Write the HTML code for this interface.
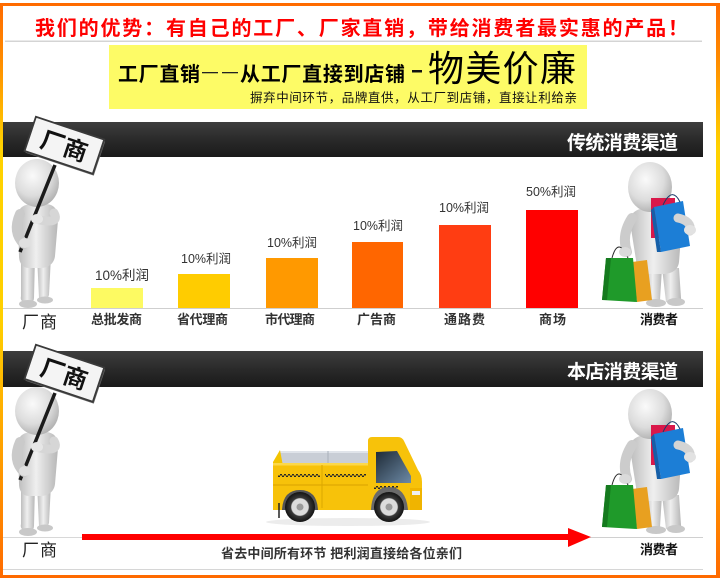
<!DOCTYPE html>
<html>
<head>
<meta charset="utf-8">
<style>
  html,body{margin:0;padding:0;background:#fff;}
  body{width:720px;height:580px;overflow:hidden;}
  svg{display:block;}
  text{font-family:"Liberation Sans","Noto Sans CJK SC",sans-serif;}
</style>
</head>
<body>
<svg width="720" height="580" viewBox="0 0 720 580" xmlns="http://www.w3.org/2000/svg">
  <defs>
    <linearGradient id="bord" x1="0" y1="0" x2="0" y2="1">
      <stop offset="0" stop-color="#ff6a00"/>
      <stop offset="0.1" stop-color="#ff8c00"/>
      <stop offset="0.25" stop-color="#ffd200"/>
      <stop offset="0.55" stop-color="#ffd000"/>
      <stop offset="0.78" stop-color="#ffa000"/>
      <stop offset="1" stop-color="#ff6a00"/>
    </linearGradient>
    <linearGradient id="dark" x1="0" y1="0" x2="0" y2="1">
      <stop offset="0" stop-color="#3e3e3e"/>
      <stop offset="0.5" stop-color="#2a2a2a"/>
      <stop offset="1" stop-color="#1a1a1a"/>
    </linearGradient>
    <radialGradient id="head" cx="0.4" cy="0.35" r="0.7">
      <stop offset="0" stop-color="#fafafa"/>
      <stop offset="0.6" stop-color="#dcdcdc"/>
      <stop offset="1" stop-color="#adadad"/>
    </radialGradient>
    <linearGradient id="body" x1="0" y1="0" x2="1" y2="0">
      <stop offset="0" stop-color="#bcbcbc"/>
      <stop offset="0.45" stop-color="#efefef"/>
      <stop offset="1" stop-color="#b6b6b6"/>
    </linearGradient>
    <linearGradient id="win" x1="0" y1="0" x2="1" y2="1">
      <stop offset="0" stop-color="#1e2a36"/>
      <stop offset="1" stop-color="#6d8aa6"/>
    </linearGradient>
    <pattern id="chk" width="4" height="3" patternUnits="userSpaceOnUse">
      <rect x="0" y="0" width="2" height="1.5" fill="#2a2a2a"/>
      <rect x="2" y="1.5" width="2" height="1.5" fill="#2a2a2a"/>
    </pattern>
    <radialGradient id="tire" cx="0.5" cy="0.5" r="0.5">
      <stop offset="0.55" stop-color="#dcdcdc"/>
      <stop offset="0.62" stop-color="#3a3a3a"/>
      <stop offset="1" stop-color="#141414"/>
    </radialGradient>
  </defs>

  <!-- border -->
  <rect x="0" y="0" width="720" height="580" fill="#fff"/>
  <rect x="0" y="3" width="720" height="575" fill="url(#bord)"/>
  <rect x="3" y="6" width="713" height="569" fill="#fff"/>

  <!-- header -->
  <text x="35" y="35" font-size="20" font-weight="bold" fill="#ff0000" textLength="653" lengthAdjust="spacing">我们的优势：有自己的工厂、厂家直销，带给消费者最实惠的产品！</text>
  <rect x="5" y="40.5" width="697" height="1.5" fill="#d4d4d4"/>

  <!-- yellow banner -->
  <rect x="109" y="45" width="478" height="64" fill="#fdfb66"/>
  <text x="118" y="81" font-size="20" font-weight="bold" fill="#000" textLength="82" lengthAdjust="spacing">工厂直销</text>
  <rect x="202" y="72" width="16" height="1.3" fill="#222"/>
  <rect x="222" y="72" width="16" height="1.3" fill="#222"/>
  <text x="240" y="81" font-size="20" font-weight="bold" fill="#000" textLength="165" lengthAdjust="spacing">从工厂直接到店铺</text>
  <rect x="412" y="70" width="10" height="2.5" fill="#111"/>
  <text x="428" y="81" font-size="36" fill="#000" textLength="148" lengthAdjust="spacing">物美价廉</text>
  <text x="250" y="102" font-size="12.5" fill="#111" textLength="327" lengthAdjust="spacing">摒弃中间环节，品牌直供，从工厂到店铺，直接让利给亲</text>

  <!-- section 1 dark bar -->
  <rect x="3" y="122" width="700" height="35" fill="url(#dark)"/>
  <text x="567" y="149" font-size="19" font-weight="bold" fill="#fff" textLength="111" lengthAdjust="spacing">传统消费渠道</text>

  <!-- baseline 1 -->
  <rect x="3" y="308" width="700" height="1" fill="#cfcfcf"/>

  <!-- bars -->
  <rect x="91" y="288" width="52" height="20" fill="#fdfa62"/>
  <rect x="178" y="274" width="52" height="34" fill="#ffcc00"/>
  <rect x="266" y="258" width="52" height="50" fill="#ff9900"/>
  <rect x="352" y="242" width="51" height="66" fill="#ff6600"/>
  <rect x="439" y="225" width="52" height="83" fill="#ff3d12"/>
  <rect x="526" y="210" width="52" height="98" fill="#ff0000"/>

  <g font-size="12.5" fill="#333">
    <text x="95" y="280" font-size="13.5">10%利润</text>
    <text x="181" y="263">10%利润</text>
    <text x="267" y="247">10%利润</text>
    <text x="353" y="230">10%利润</text>
    <text x="439" y="212">10%利润</text>
    <text x="526" y="196">50%利润</text>
  </g>

  <!-- category labels -->
  <text x="22" y="328" font-size="17" fill="#222" textLength="35" lengthAdjust="spacing">厂商</text>
  <g font-size="13" fill="#333" font-weight="bold">
    <text x="91" y="324" textLength="51" lengthAdjust="spacing">总批发商</text>
    <text x="177" y="324" textLength="51" lengthAdjust="spacing">省代理商</text>
    <text x="265" y="324" textLength="50" lengthAdjust="spacing">市代理商</text>
    <text x="357" y="324" textLength="39" lengthAdjust="spacing">广告商</text>
    <text x="444" y="324" textLength="41" lengthAdjust="spacing">通路费</text>
    <text x="539" y="324" textLength="27" lengthAdjust="spacing">商场</text>
    <text x="640" y="324" textLength="38" lengthAdjust="spacing" fill="#111">消费者</text>
  </g>

  <!-- maker figure section 1 -->
  <g>
    <path d="M21 256 L35 256 L34 298 Q34 303 29 303 L23 302 Q20 300 21 296 Z" fill="url(#body)"/>
    <path d="M37 256 L51 256 L49 295 Q48 299 44 299 L39 298 Z" fill="url(#body)"/>
    <ellipse cx="28" cy="304" rx="9" ry="4" fill="#c8c8c8"/>
    <ellipse cx="45" cy="300" rx="8" ry="3.5" fill="#c8c8c8"/>
    <path d="M18 216 C18 207 25 204 33 204 L45 204 C54 204 59 210 58 220 L55 256 C54 264 48 268 40 268 L29 268 C22 268 19 262 19 256 Z" fill="url(#body)"/>
    <ellipse cx="37" cy="183" rx="22" ry="24" fill="url(#head)"/>
    <line x1="55" y1="165" x2="20" y2="252" stroke="#1b1b1b" stroke-width="3.5"/>
    <path d="M20 214 Q12 232 24 244" stroke="#cacaca" stroke-width="10" fill="none" stroke-linecap="round"/>
    <path d="M54 213 Q60 224 40 220" stroke="#d6d6d6" stroke-width="9" fill="none" stroke-linecap="round"/>
    <ellipse cx="25" cy="243" rx="6" ry="5" fill="#e0e0e0"/>
    <ellipse cx="37" cy="219" rx="6" ry="5" fill="#e6e6e6"/>
    <g transform="translate(65,146.5) rotate(18.5)">
      <rect x="-35.5" y="-17.5" width="72" height="36" fill="#666"/>
      <rect x="-37" y="-19" width="72" height="36" fill="#f4f4f4" stroke="#3a3a3a" stroke-width="1.8"/>
      <text x="-1" y="8.5" font-size="24" font-weight="bold" text-anchor="middle" fill="#111">厂商</text>
    </g>
  </g>

  <!-- consumer figure section 1 -->
  <g>
    <path d="M645 268 L662 268 L660 300 Q660 304 655 304 L648 303 Z" fill="url(#body)"/>
    <path d="M662 268 L679 268 L681 298 Q682 303 676 303 L666 302 Z" fill="url(#body)"/>
    <ellipse cx="656" cy="303" rx="10" ry="4" fill="#c8c8c8"/>
    <ellipse cx="676" cy="302" rx="9" ry="4" fill="#c8c8c8"/>
    <path d="M630 222 C630 212 638 208 648 208 L666 208 C676 208 683 214 682 224 L679 262 C678 270 672 274 662 274 L648 274 C640 274 636 268 636 260 Z" fill="url(#body)"/>
    <ellipse cx="650" cy="187" rx="22" ry="25" fill="url(#head)"/>
    <rect x="651" y="198" width="24" height="40" fill="#d9184a"/>
    <path d="M632 218 Q621 235 627 252" stroke="#cccccc" stroke-width="10" fill="none" stroke-linecap="round"/>
    <path d="M632 262 L647 260 L652 300 L637 302 Z" fill="#e8a020"/>
    <path d="M606 258 L633 258 L637 302 L602 300 Z" fill="#1f9a2a"/>
    <path d="M606 258 L611 258 L607 300 L602 300 Z" fill="#157a1e"/>
    <path d="M612 258 Q618 236 628 258" stroke="#2a2a2a" stroke-width="1" fill="none"/>
    <ellipse cx="625" cy="252" rx="6" ry="5" fill="#dadada"/>
    <path d="M654 207 L683 201 L690 246 L661 252 Z" fill="#1c7ed6"/>
    <path d="M654 207 L661 252 L657 252 L651 210 Z" fill="#155fa8"/>
    <path d="M663 205 Q672 186 680 202" stroke="#1a3a6a" stroke-width="1" fill="none"/>
    <path d="M678 218 Q692 221 690 231" stroke="#d4d4d4" stroke-width="9" fill="none" stroke-linecap="round"/>
    <ellipse cx="690" cy="230" rx="6" ry="5" fill="#e2e2e2"/>
  </g>

  <!-- section 2 dark bar -->
  <rect x="3" y="351" width="700" height="36" fill="url(#dark)"/>
  <text x="567" y="378" font-size="19" font-weight="bold" fill="#fff" textLength="111" lengthAdjust="spacing">本店消费渠道</text>

  <!-- truck -->
  <g>
    <ellipse cx="348" cy="522" rx="82" ry="4" fill="#ececec"/>
    <rect x="280" y="451" width="88" height="15" fill="#c9ced6"/>
    <rect x="280" y="451" width="88" height="2" fill="#e0e4ea"/>
    <line x1="328" y1="451" x2="328" y2="466" stroke="#a9b0ba" stroke-width="1"/>
    <path d="M273 462 L280 450 L283 466 L273 466 Z" fill="#f3c400"/>
    <rect x="273" y="464" width="97" height="46" fill="#f7c20a"/>
    <rect x="273" y="463" width="97" height="2.5" fill="#fcd84a"/>
    <rect x="278" y="474" width="42" height="3" fill="url(#chk)"/>
    <rect x="325" y="474" width="41" height="3" fill="url(#chk)"/>
    <line x1="273" y1="485" x2="370" y2="485" stroke="#d9a200" stroke-width="1"/>
    <line x1="322" y1="465" x2="322" y2="508" stroke="#dba800" stroke-width="1"/>
    <path d="M368 441 Q368 437 372 437 L398 437 Q402 437 404 441 L418 470 Q422 475 422 482 L422 510 L368 510 Z" fill="#f7c20a"/>
    <path d="M376 452 L397 451 L411 476 L411 483 L376 483 Z" fill="url(#win)"/>
    <rect x="374" y="486" width="24" height="3" fill="url(#chk)"/>
    <rect x="410" y="488" width="12" height="22" fill="#f0b400"/>
    <rect x="412" y="491" width="8" height="4" fill="#eeeeee"/>
    <path d="M282 510 Q283 490 300 490 Q317 490 318 510 Z" fill="#555"/>
    <path d="M371 510 Q372 487 389 487 Q406 487 408 510 Z" fill="#6a6a6a"/>
    <line x1="279" y1="503" x2="279" y2="518" stroke="#222" stroke-width="1.5"/>
    <circle cx="300" cy="507" r="15" fill="url(#tire)"/>
    <circle cx="300" cy="507" r="3.5" fill="#9a9a9a"/>
    <circle cx="389" cy="507" r="15" fill="url(#tire)"/>
    <circle cx="389" cy="507" r="3.5" fill="#9a9a9a"/>
  </g>

  <!-- arrow line -->
  <rect x="3" y="537" width="80" height="1" fill="#d8d8d8"/>
  <rect x="590" y="537" width="113" height="1" fill="#d0d0d0"/>
  <rect x="82" y="534" width="488" height="6" fill="#ff0000"/>
  <polygon points="568,528 591,537 568,547" fill="#ff0000"/>

  <text x="22" y="556" font-size="17" fill="#222" textLength="35" lengthAdjust="spacing">厂商</text>
  <text x="221" y="558" font-size="13" fill="#333" font-weight="bold" textLength="241" lengthAdjust="spacing">省去中间所有环节 把利润直接给各位亲们</text>
  <text x="640" y="554" font-size="13" fill="#111" font-weight="bold" textLength="38" lengthAdjust="spacing">消费者</text>

  <rect x="3" y="569" width="700" height="1" fill="#d6d6d6"/>

  <!-- maker figure section 2 -->
  <g transform="translate(0,228)">
    <path d="M21 256 L35 256 L34 298 Q34 303 29 303 L23 302 Q20 300 21 296 Z" fill="url(#body)"/>
    <path d="M37 256 L51 256 L49 295 Q48 299 44 299 L39 298 Z" fill="url(#body)"/>
    <ellipse cx="28" cy="304" rx="9" ry="4" fill="#c8c8c8"/>
    <ellipse cx="45" cy="300" rx="8" ry="3.5" fill="#c8c8c8"/>
    <path d="M18 216 C18 207 25 204 33 204 L45 204 C54 204 59 210 58 220 L55 256 C54 264 48 268 40 268 L29 268 C22 268 19 262 19 256 Z" fill="url(#body)"/>
    <ellipse cx="37" cy="183" rx="22" ry="24" fill="url(#head)"/>
    <line x1="55" y1="165" x2="20" y2="252" stroke="#1b1b1b" stroke-width="3.5"/>
    <path d="M20 214 Q12 232 24 244" stroke="#cacaca" stroke-width="10" fill="none" stroke-linecap="round"/>
    <path d="M54 213 Q60 224 40 220" stroke="#d6d6d6" stroke-width="9" fill="none" stroke-linecap="round"/>
    <ellipse cx="25" cy="243" rx="6" ry="5" fill="#e0e0e0"/>
    <ellipse cx="37" cy="219" rx="6" ry="5" fill="#e6e6e6"/>
    <g transform="translate(65,146.5) rotate(18.5)">
      <rect x="-35.5" y="-17.5" width="72" height="36" fill="#666"/>
      <rect x="-37" y="-19" width="72" height="36" fill="#f4f4f4" stroke="#3a3a3a" stroke-width="1.8"/>
      <text x="-1" y="8.5" font-size="24" font-weight="bold" text-anchor="middle" fill="#111">厂商</text>
    </g>
  </g>

  <!-- consumer figure section 2 -->
  <g transform="translate(0,227)">
    <path d="M645 268 L662 268 L660 300 Q660 304 655 304 L648 303 Z" fill="url(#body)"/>
    <path d="M662 268 L679 268 L681 298 Q682 303 676 303 L666 302 Z" fill="url(#body)"/>
    <ellipse cx="656" cy="303" rx="10" ry="4" fill="#c8c8c8"/>
    <ellipse cx="676" cy="302" rx="9" ry="4" fill="#c8c8c8"/>
    <path d="M630 222 C630 212 638 208 648 208 L666 208 C676 208 683 214 682 224 L679 262 C678 270 672 274 662 274 L648 274 C640 274 636 268 636 260 Z" fill="url(#body)"/>
    <ellipse cx="650" cy="187" rx="22" ry="25" fill="url(#head)"/>
    <rect x="651" y="198" width="24" height="40" fill="#d9184a"/>
    <path d="M632 218 Q621 235 627 252" stroke="#cccccc" stroke-width="10" fill="none" stroke-linecap="round"/>
    <path d="M632 262 L647 260 L652 300 L637 302 Z" fill="#e8a020"/>
    <path d="M606 258 L633 258 L637 302 L602 300 Z" fill="#1f9a2a"/>
    <path d="M606 258 L611 258 L607 300 L602 300 Z" fill="#157a1e"/>
    <path d="M612 258 Q618 236 628 258" stroke="#2a2a2a" stroke-width="1" fill="none"/>
    <ellipse cx="625" cy="252" rx="6" ry="5" fill="#dadada"/>
    <path d="M654 207 L683 201 L690 246 L661 252 Z" fill="#1c7ed6"/>
    <path d="M654 207 L661 252 L657 252 L651 210 Z" fill="#155fa8"/>
    <path d="M663 205 Q672 186 680 202" stroke="#1a3a6a" stroke-width="1" fill="none"/>
    <path d="M678 218 Q692 221 690 231" stroke="#d4d4d4" stroke-width="9" fill="none" stroke-linecap="round"/>
    <ellipse cx="690" cy="230" rx="6" ry="5" fill="#e2e2e2"/>
  </g>
</svg>
</body>
</html>
